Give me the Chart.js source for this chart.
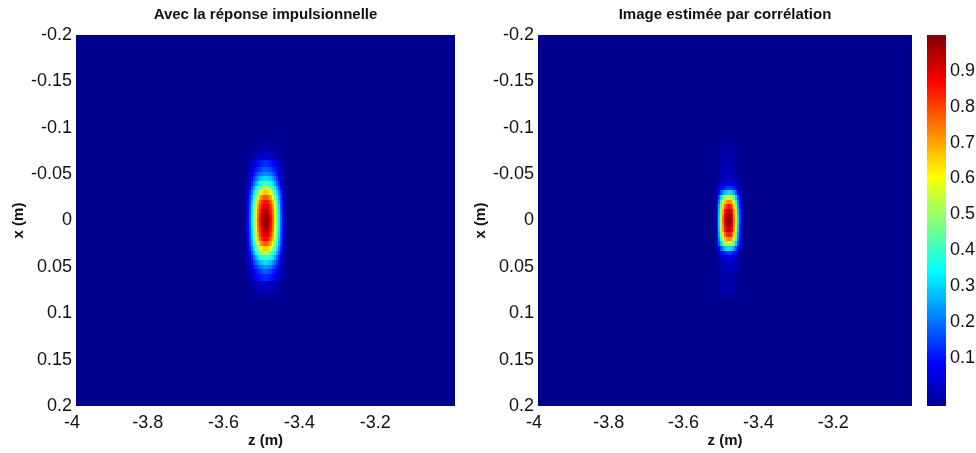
<!DOCTYPE html>
<html><head><meta charset="utf-8">
<script src="https://cdn.jsdelivr.net/npm/chart.js@4.4.1/dist/chart.umd.min.js"></script>
<style>
html,body{margin:0;padding:0;background:#fff;width:976px;height:453px;overflow:hidden;position:relative}
canvas{position:absolute;top:0}
</style></head><body>
<canvas id="c1" width="470" height="453" style="left:0px"></canvas>
<canvas id="c2" width="460" height="453" style="left:462px"></canvas>
<canvas id="c3" width="76" height="453" style="left:900px"></canvas>
<script>
// ---------- data ----------
const titleLeft = 'Avec la réponse impulsionnelle';
const titleRight = 'Image estimée par corrélation';
const zLabel = 'z (m)';
const xLabel = 'x (m)';
const zMin = -4, zMax = -3;
const xMin = -0.2, xMax = 0.2;
const zTicks = [-4, -3.8, -3.6, -3.4, -3.2];
const xTicks = [-0.2, -0.15, -0.1, -0.05, 0, 0.05, 0.1, 0.15, 0.2];
const cbMin = -0.035, cbMax = 1.0;
const cbTicks = [0.1, 0.2, 0.3, 0.4, 0.5, 0.6, 0.7, 0.8, 0.9];

// left image: cell centres (z columns, x rows) and normalised amplitude
const zLeft = [-3.55,-3.545,-3.54,-3.535,-3.53,-3.525,-3.52,-3.515,-3.51,-3.505,-3.5,-3.495,-3.49,-3.485,-3.48,-3.475,-3.47,-3.465,-3.46,-3.455,-3.45];
const xLeft = [-0.08,-0.07,-0.06,-0.055,-0.05,-0.045,-0.04,-0.035,-0.03,-0.025,-0.02,-0.015,-0.01,-0.005,0,0.005,0.01,0.015,0.02,0.025,0.03,0.035,0.04,0.045,0.05,0.055,0.06,0.07,0.08];
const gridLeft = [
[0,0,0,.01,.01,.01,.02,.02,.02,.02,.02,.02,.02,.02,.02,.01,.01,.01,0,0,0],
[0,.01,.01,.02,.03,.04,.05,.05,.06,.06,.06,.06,.06,.05,.05,.04,.03,.02,.01,.01,0],
[.01,.02,.03,.05,.08,.10,.12,.13,.14,.15,.15,.15,.14,.13,.12,.10,.08,.05,.03,.02,.01],
[.01,.02,.04,.07,.10,.13,.15,.17,.19,.20,.20,.20,.19,.17,.15,.13,.10,.07,.04,.02,.01],
[.02,.03,.06,.09,.13,.17,.20,.23,.24,.25,.26,.25,.24,.23,.20,.17,.13,.09,.06,.03,.02],
[.02,.04,.07,.12,.17,.22,.26,.30,.32,.33,.34,.33,.32,.30,.26,.22,.17,.12,.07,.04,.02],
[.03,.05,.10,.15,.22,.28,.34,.38,.41,.43,.44,.43,.41,.38,.34,.28,.22,.15,.10,.05,.03],
[.03,.07,.12,.20,.28,.36,.43,.49,.53,.55,.56,.55,.53,.49,.43,.36,.28,.20,.12,.07,.03],
[.04,.08,.15,.24,.34,.44,.52,.59,.64,.67,.68,.67,.64,.59,.52,.44,.34,.24,.15,.08,.04],
[.05,.10,.18,.28,.40,.51,.62,.70,.75,.78,.80,.78,.75,.70,.62,.51,.40,.28,.18,.10,.05],
[.05,.11,.19,.31,.44,.56,.68,.77,.83,.86,.88,.86,.83,.77,.68,.56,.44,.31,.19,.11,.05],
[.06,.11,.20,.33,.47,.60,.72,.81,.87,.91,.93,.91,.87,.81,.72,.60,.47,.33,.20,.11,.06],
[.06,.12,.21,.34,.49,.62,.75,.84,.91,.95,.97,.95,.91,.84,.75,.62,.49,.34,.21,.12,.06],
[.06,.12,.22,.35,.50,.63,.76,.86,.93,.97,.99,.97,.93,.86,.76,.63,.50,.35,.22,.12,.06],
[.06,.12,.22,.35,.50,.64,.77,.87,.94,.98,1,.98,.94,.87,.77,.64,.50,.35,.22,.12,.06],
[.06,.12,.22,.35,.50,.63,.76,.86,.93,.97,.99,.97,.93,.86,.76,.63,.50,.35,.22,.12,.06],
[.06,.12,.21,.34,.49,.62,.75,.84,.91,.95,.97,.95,.91,.84,.75,.62,.49,.34,.21,.12,.06],
[.06,.11,.20,.33,.47,.60,.72,.81,.87,.91,.93,.91,.87,.81,.72,.60,.47,.33,.20,.11,.06],
[.05,.11,.19,.31,.44,.56,.68,.77,.83,.86,.88,.86,.83,.77,.68,.56,.44,.31,.19,.11,.05],
[.05,.10,.18,.28,.40,.51,.62,.70,.75,.78,.80,.78,.75,.70,.62,.51,.40,.28,.18,.10,.05],
[.04,.08,.15,.24,.34,.44,.52,.59,.64,.67,.68,.67,.64,.59,.52,.44,.34,.24,.15,.08,.04],
[.03,.07,.12,.20,.28,.36,.43,.49,.53,.55,.56,.55,.53,.49,.43,.36,.28,.20,.12,.07,.03],
[.03,.05,.10,.15,.22,.28,.34,.38,.41,.43,.44,.43,.41,.38,.34,.28,.22,.15,.10,.05,.03],
[.02,.04,.07,.12,.17,.22,.26,.30,.32,.33,.34,.33,.32,.30,.26,.22,.17,.12,.07,.04,.02],
[.02,.03,.06,.09,.13,.17,.20,.23,.24,.25,.26,.25,.24,.23,.20,.17,.13,.09,.06,.03,.02],
[.01,.02,.04,.07,.10,.13,.15,.17,.19,.20,.20,.20,.19,.17,.15,.13,.10,.07,.04,.02,.01],
[.01,.02,.03,.05,.08,.10,.12,.13,.14,.15,.15,.15,.14,.13,.12,.10,.08,.05,.03,.02,.01],
[0,.01,.01,.02,.03,.04,.05,.05,.06,.06,.06,.06,.06,.05,.05,.04,.03,.02,.01,.01,0],
[0,0,0,.01,.01,.01,.02,.02,.02,.02,.02,.02,.02,.02,.02,.01,.01,.01,0,0,0]
];

// right image: cell centres and normalised amplitude
const zRight = [-3.525,-3.52,-3.515,-3.51,-3.505,-3.5,-3.495,-3.49,-3.485,-3.48,-3.475,-3.47,-3.465,-3.46,-3.455];
const xRight = [-0.08,-0.07,-0.06,-0.05,-0.045,-0.04,-0.035,-0.03,-0.025,-0.02,-0.015,-0.01,-0.005,0,0.005,0.01,0.015,0.02,0.025,0.03,0.035,0.04,0.045,0.05,0.06,0.07,0.08];
const gridRight = [
[0,0,.01,.01,.02,.02,.02,.02,.02,.02,.02,.01,.01,0,0],
[0,0,.01,.02,.02,.03,.03,.03,.03,.03,.02,.02,.01,0,0],
[0,0,.01,.02,.02,.03,.03,.03,.03,.03,.02,.02,.01,0,0],
[0,.01,.01,.02,.03,.04,.04,.04,.04,.04,.03,.02,.01,.01,0],
[0,.01,.02,.03,.04,.05,.05,.05,.05,.05,.04,.03,.02,.01,0],
[0,.01,.03,.04,.06,.07,.08,.08,.08,.07,.06,.04,.03,.01,0],
[.01,.02,.05,.09,.12,.14,.16,.16,.16,.14,.12,.09,.05,.02,.01],
[.02,.05,.11,.19,.26,.31,.33,.34,.33,.31,.26,.19,.11,.05,.02],
[.03,.09,.19,.32,.44,.52,.56,.58,.56,.52,.44,.32,.19,.09,.03],
[.04,.11,.24,.41,.56,.67,.72,.74,.72,.67,.56,.41,.24,.11,.04],
[.05,.13,.28,.48,.65,.77,.83,.86,.83,.77,.65,.48,.28,.13,.05],
[.06,.14,.31,.53,.71,.85,.91,.94,.91,.85,.71,.53,.31,.14,.06],
[.06,.15,.32,.55,.74,.88,.95,.98,.95,.88,.74,.55,.32,.15,.06],
[.06,.15,.33,.56,.76,.90,.97,1,.97,.90,.76,.56,.33,.15,.06],
[.06,.15,.32,.55,.74,.88,.95,.98,.95,.88,.74,.55,.32,.15,.06],
[.06,.14,.31,.53,.71,.85,.91,.94,.91,.85,.71,.53,.31,.14,.06],
[.05,.13,.28,.48,.65,.77,.83,.86,.83,.77,.65,.48,.28,.13,.05],
[.04,.11,.24,.41,.56,.67,.72,.74,.72,.67,.56,.41,.24,.11,.04],
[.03,.09,.19,.32,.44,.52,.56,.58,.56,.52,.44,.32,.19,.09,.03],
[.02,.05,.11,.19,.26,.31,.33,.34,.33,.31,.26,.19,.11,.05,.02],
[.01,.02,.05,.09,.12,.14,.16,.16,.16,.14,.12,.09,.05,.02,.01],
[0,.01,.03,.04,.06,.07,.08,.08,.08,.07,.06,.04,.03,.01,0],
[0,.01,.02,.03,.04,.05,.05,.05,.05,.05,.04,.03,.02,.01,0],
[0,.01,.01,.02,.03,.04,.04,.04,.04,.04,.03,.02,.01,.01,0],
[0,0,.01,.02,.02,.03,.03,.03,.03,.03,.02,.02,.01,0,0],
[0,0,.01,.02,.02,.03,.03,.03,.03,.03,.02,.02,.01,0,0],
[0,0,.01,.01,.02,.02,.02,.02,.02,.02,.02,.01,.01,0,0]
];

// ---------- colour map (MATLAB jet) ----------
const jetStops = [
  [0, [0,0,143]], [0.111, [0,0,255]], [0.365, [0,255,255]],
  [0.619, [255,255,0]], [0.873, [255,0,0]], [1, [128,0,0]]
];
function jet(t){
  t = Math.max(0, Math.min(1, t));
  for (let i = 1; i < jetStops.length; i++){
    const [t1, c1] = jetStops[i], [t0, c0] = jetStops[i-1];
    if (t <= t1){
      const f = (t - t0) / (t1 - t0);
      return 'rgb(' + c0.map((c,k)=>Math.round(c + (c1[k]-c)*f)).join(',') + ')';
    }
  }
  return 'rgb(128,0,0)';
}

const FONT = "'Liberation Sans', Arial, Helvetica, sans-serif";
const TXT = '#111';

function edges(arr, i){
  const lo = i === 0 ? arr[0] - (arr[1]-arr[0])/2 : (arr[i-1]+arr[i])/2;
  const hi = i === arr.length-1 ? arr[i] + (arr[i]-arr[i-1])/2 : (arr[i]+arr[i+1])/2;
  return [lo, hi];
}

const heatPlugin = {
  id: 'heat',
  beforeDatasetsDraw(chart, args, opts){
    const {ctx, chartArea:a, scales} = chart;
    const sx = scales.x, sy = scales.y;
    ctx.save();
    ctx.beginPath(); ctx.rect(a.left, a.top, a.width, a.height); ctx.clip();
    ctx.fillStyle = jet(0);
    ctx.fillRect(a.left, a.top, a.width, a.height);
    const zs = opts.zs, xs = opts.xs, g = opts.grid;
    for (let j = 0; j < xs.length; j++){
      const [xl, xh] = edges(xs, j);
      const py0 = Math.round(sy.getPixelForValue(xl)), py1 = Math.round(sy.getPixelForValue(xh));
      for (let i = 0; i < zs.length; i++){
        const v = g[j][i];
        if (!v) continue;
        const [zl, zh] = edges(zs, i);
        const px0 = Math.round(sx.getPixelForValue(zl)), px1 = Math.round(sx.getPixelForValue(zh));
        ctx.fillStyle = jet(v);
        ctx.fillRect(Math.min(px0,px1), Math.min(py0,py1), Math.abs(px1-px0), Math.abs(py1-py0));
      }
    }
    ctx.restore();
  }
};

const cbarPlugin = {
  id: 'cbar',
  beforeDatasetsDraw(chart){
    const {ctx, chartArea:a, scales} = chart;
    const y0 = scales.y.getPixelForValue(cbMin), y1 = scales.y.getPixelForValue(cbMax);
    const grad = ctx.createLinearGradient(0, y0, 0, y1);
    jetStops.forEach(s => grad.addColorStop(s[0], 'rgb(' + s[1].join(',') + ')'));
    ctx.save();
    ctx.fillStyle = grad;
    ctx.fillRect(a.left, a.top, a.width, a.height);
    ctx.restore();
  }
};

function fmt(v, d){ const n = Number(Number(v).toFixed(d)); return String(n === 0 ? 0 : n); }

function xAxis(){
  return {
    type: 'linear', min: zMin, max: zMax,
    grid: {display:false, drawTicks:false}, border: {display:false},
    afterBuildTicks: s => { s.ticks = zTicks.map(v => ({value:v})); },
    afterFit: s => { s.height = 47; },
    ticks: {autoSkip:false, maxRotation:0, padding:6, labelOffset:-4, color:TXT,
            font:{family:FONT, size:18}, callback: v => fmt(v,1)},
    title: {display:true, text:zLabel, color:TXT, padding:{top:3, bottom:3},
            font:{family:FONT, size:15, weight:'bold', lineHeight:1.2}}
  };
}
function yAxis(){
  return {
    type: 'linear', min: xMin, max: xMax, reverse: true,
    grid: {display:false, drawTicks:false}, border: {display:false},
    afterBuildTicks: s => { s.ticks = xTicks.map(v => ({value:v})); },
    afterFit: s => { s.width = 76; },
    ticks: {autoSkip:false, padding:4, color:TXT, font:{family:FONT, size:18}, callback: v => fmt(v,2)},
    title: {display:true, text:xLabel, color:TXT, padding:{top:10, bottom:10},
            font:{family:FONT, size:15, weight:'bold', lineHeight:1.2}}
  };
}

function heatChart(id, title, zs, xs, grid, padRight){
  const pts = [];
  xs.forEach((xv, j) => zs.forEach((zv, i) => pts.push({x:zv, y:xv, v:grid[j][i]})));
  return new Chart(document.getElementById(id), {
    type: 'scatter',
    data: {datasets: [{data: pts, pointRadius: 0, pointHoverRadius: 0}]},
    options: {
      responsive:false, animation:false, devicePixelRatio:1,
      layout: {padding:{left:0, right:padRight, top:0, bottom:0}},
      scales: {x: xAxis(), y: yAxis()},
      plugins: {
        legend:{display:false}, tooltip:{enabled:false},
        title: {display:true, text:title, fullSize:false, color:TXT,
                font:{family:FONT, size:15, weight:'bold', lineHeight:1.2}, padding:{top:6, bottom:11}},
        heat: {zs, xs, grid}
      }
    },
    plugins: [heatPlugin]
  });
}

heatChart('c1', titleLeft, zLeft, xLeft, gridLeft, 15);
heatChart('c2', titleRight, zRight, xRight, gridRight, 10);

new Chart(document.getElementById('c3'), {
  type: 'scatter',
  data: {datasets: [{data: cbTicks.map(v => ({x:0, y:v})), pointRadius:0, pointHoverRadius:0}]},
  options: {
    responsive:false, animation:false, devicePixelRatio:1,
    layout: {padding:{left:27, right:0, top:35, bottom:47}},
    scales: {
      x: {type:'linear', display:false, min:-1, max:1},
      y: {type:'linear', position:'right', min:cbMin, max:cbMax,
          grid:{display:false, drawTicks:false}, border:{display:false},
          afterBuildTicks: s => { s.ticks = cbTicks.map(v => ({value:v})); },
          afterFit: s => { s.width = 30; },
          ticks:{autoSkip:false, padding:4, color:TXT, font:{family:FONT, size:18}, callback: v => fmt(v,1)}}
    },
    plugins: {legend:{display:false}, tooltip:{enabled:false}}
  },
  plugins: [cbarPlugin]
});
</script>
</body></html>
